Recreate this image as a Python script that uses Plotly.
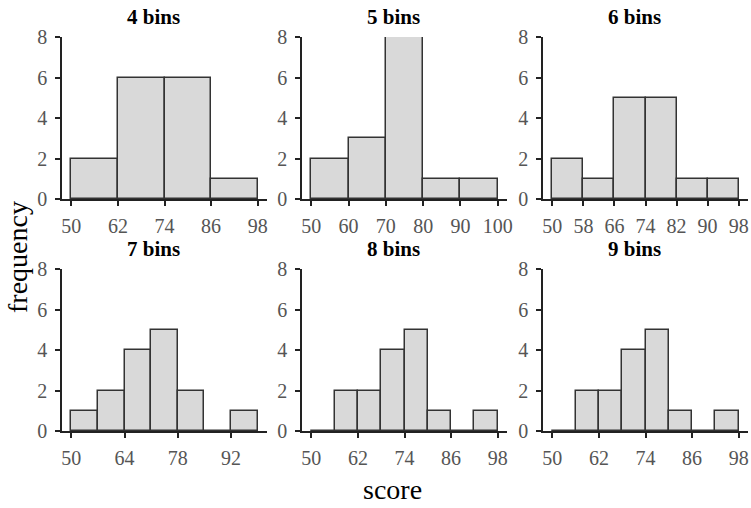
import plotly.graph_objects as go

W, H = 751, 508

panel_titles = ["4 bins", "5 bins", "6 bins", "7 bins", "8 bins", "9 bins"]
bin_start = 50
bin_widths = [12, 10, 8, 7, 6, 6]

counts_4bins = [2, 6, 6, 1]
counts_5bins = [2, 3, 8, 1, 1]
counts_6bins = [2, 1, 5, 5, 1, 1]
counts_7bins = [1, 2, 4, 5, 2, 0, 1]
counts_8bins = [0, 2, 2, 4, 5, 1, 0, 1]
counts_9bins = [0, 2, 2, 4, 5, 1, 0, 1]

ticks_4bins = [50, 62, 74, 86, 98]
ticks_5bins = [50, 60, 70, 80, 90, 100]
ticks_6bins = [50, 58, 66, 74, 82, 90, 98]
ticks_7bins = [50, 64, 78, 92]
ticks_8bins = [50, 62, 74, 86, 98]
ticks_9bins = [50, 62, 74, 86, 98]

y_ticks = [0, 2, 4, 6, 8]

all_counts = [counts_4bins, counts_5bins, counts_6bins,
              counts_7bins, counts_8bins, counts_9bins]
all_ticks = [ticks_4bins, ticks_5bins, ticks_6bins,
             ticks_7bins, ticks_8bins, ticks_9bins]

FONT = "Liberation Serif"
fig = go.Figure()

# pixel layout of plot areas
x_px = [(62, 267), (302, 507), (543, 748)]
y_px = [(37, 199), (269, 431)]

annotations = []
for i in range(6):
    r, c = divmod(i, 3)
    n = i + 1
    ax = "" if n == 1 else str(n)
    w = bin_widths[i]
    cnt = all_counts[i]
    centers = [bin_start + w * (k + 0.5) for k in range(len(cnt))]
    fig.add_trace(go.Bar(
        x=centers, y=cnt, width=[w] * len(cnt),
        marker=dict(color="#d9d9d9", line=dict(color="#333333", width=1.5)),
        xaxis="x" + ax, yaxis="y" + ax, showlegend=False,
    ))
    lo = bin_start
    hi = bin_start + w * len(cnt)
    pad = 0.05 * (hi - lo)
    xd = [x_px[c][0] / W, x_px[c][1] / W]
    yd = [1 - y_px[r][1] / H, 1 - y_px[r][0] / H]
    common = dict(showline=True, linecolor="#222222", linewidth=1.5,
                  ticks="outside", ticklen=5, tickwidth=1.5, tickcolor="#222222",
                  showgrid=False, zeroline=False, automargin=False,
                  tickfont=dict(family=FONT, size=20, color="#555555"))
    fig.update_layout(**{
        "xaxis" + ax: dict(domain=xd, range=[lo - pad, hi + pad],
                           tickvals=all_ticks[i], anchor="y" + ax,
                           ticklabelstandoff=3, **common),
        "yaxis" + ax: dict(domain=yd, range=[0, 8], tickvals=y_ticks,
                           anchor="x" + ax, ticklabelstandoff=4, **common),
    })
    cx = (x_px[c][0] + x_px[c][1]) / 2 - 11
    ty = y_px[r][0] - 20
    annotations.append(dict(text="<b>" + panel_titles[i] + "</b>",
                            x=cx / W, y=1 - ty / H, xref="paper", yref="paper",
                            showarrow=False, xanchor="center", yanchor="middle",
                            font=dict(family=FONT, size=21, color="#000000")))

annotations.append(dict(text="frequency", x=17 / W, y=1 - 257 / H,
                        xref="paper", yref="paper", showarrow=False,
                        textangle=-90, xanchor="center", yanchor="middle",
                        font=dict(family=FONT, size=28, color="#000000")))
annotations.append(dict(text="score", x=393 / W, y=1 - 489 / H,
                        xref="paper", yref="paper", showarrow=False,
                        xanchor="center", yanchor="middle",
                        font=dict(family=FONT, size=28, color="#000000")))

fig.update_layout(width=W, height=H, margin=dict(l=0, r=0, t=0, b=0),
                  paper_bgcolor="white", plot_bgcolor="white",
                  bargap=0, annotations=annotations,
                  font=dict(family=FONT))

fig.write_html("out.html")
